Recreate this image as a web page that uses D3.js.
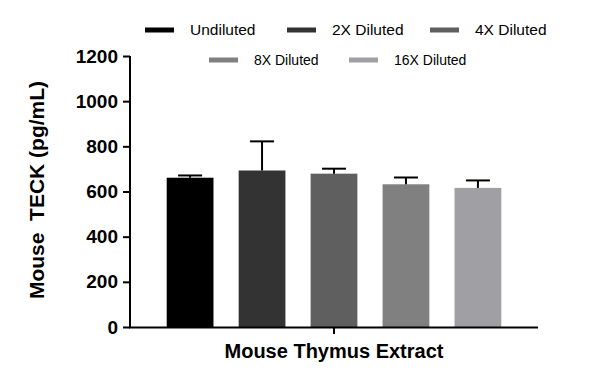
<!DOCTYPE html>
<html lang="en">
    <head>
        <meta charset="utf-8">
        <title>Mouse TECK</title>
        <script src="https://cdn.jsdelivr.net/npm/d3@7"></script>
        <style>
            body { margin: 0; background: #fff; }
            text { font-family: "Liberation Sans", Arial, sans-serif; }
        </style>
    </head>
    <body>
        <script type="text/javascript">

            // the data
            var groups = ["Undiluted", "2X Diluted", "4X Diluted", "8X Diluted", "16X Diluted"];
            var means = [661, 693, 679, 632, 616];
            var errors = [10, 129, 22, 30, 33];
            var colors = ["#000000", "#333333", "#5f5f5f", "#808080", "#a0a0a4"];
            var yTicks = [0, 200, 400, 600, 800, 1000, 1200];

            var w = 600;
            var h = 387;

            var svg = d3.select("body")
                        .append("svg")
                        .attr("width", w)
                        .attr("height", h);

            // scales
            var yScale = d3.scaleLinear()
                            .domain([0, 1200])
                            .range([327, 56]);

            var xScale = d3.scaleBand()
                            .domain(groups)
                            .range([130, 538])
                            .paddingInner(0.35)
                            .paddingOuter(0.51);

            // bars
            svg.selectAll("rect.bar")
              .data(groups)
              .enter()
              .append("rect")
              .attr("class", "bar")
              .attr("x", function(d) { return xScale(d); })
              .attr("y", function(d, i) { return yScale(means[i]); })
              .attr("width", xScale.bandwidth())
              .attr("height", function(d, i) { return yScale(0) - yScale(means[i]); })
              .attr("fill", function(d, i) { return colors[i]; });

            // error bars, only the upper half
            var err = svg.selectAll("g.err")
              .data(groups)
              .enter()
              .append("g")
              .attr("class", "err")
              .attr("stroke", "#000")
              .attr("stroke-width", 2);

            err.append("line")
              .attr("x1", function(d) { return xScale(d) + xScale.bandwidth() / 2; })
              .attr("x2", function(d) { return xScale(d) + xScale.bandwidth() / 2; })
              .attr("y1", function(d, i) { return yScale(means[i]); })
              .attr("y2", function(d, i) { return yScale(means[i] + errors[i]); });

            err.append("line")
              .attr("x1", function(d) { return xScale(d) + xScale.bandwidth() / 2 - 12; })
              .attr("x2", function(d) { return xScale(d) + xScale.bandwidth() / 2 + 12; })
              .attr("y1", function(d, i) { return yScale(means[i] + errors[i]); })
              .attr("y2", function(d, i) { return yScale(means[i] + errors[i]); });

            // y axis
            var yAxis = svg.append("g")
              .attr("transform", "translate(130,0)")
              .call(d3.axisLeft(yScale).tickValues(yTicks).tickSize(7).tickPadding(5).tickFormat(d3.format("d")));

            yAxis.select(".domain").attr("stroke-width", 2).attr("d", "M0,56V328");
            yAxis.selectAll(".tick line").attr("stroke-width", 2);
            yAxis.selectAll(".tick text")
              .attr("fill", "#000")
              .style("font-size", "19px")
              .style("font-weight", "bold");

            // x axis, one tick in the middle
            svg.append("line")
              .attr("x1", 129)
              .attr("x2", 538)
              .attr("y1", 327.5)
              .attr("y2", 327.5)
              .attr("stroke", "#000")
              .attr("stroke-width", 2);

            svg.append("line")
              .attr("x1", (130 + 538) / 2)
              .attr("x2", (130 + 538) / 2)
              .attr("y1", 327)
              .attr("y2", 334)
              .attr("stroke", "#000")
              .attr("stroke-width", 2);

            // axis titles
            svg.append("text")
              .attr("x", 334)
              .attr("y", 358)
              .attr("text-anchor", "middle")
              .style("font-size", "20px")
              .style("font-weight", "bold")
              .text("Mouse Thymus Extract");

            svg.append("text")
              .attr("transform", "translate(44,190) rotate(-90)")
              .attr("text-anchor", "middle")
              .style("font-size", "21px")
              .style("font-weight", "bold")
              .style("white-space", "pre")
              .text("Mouse  TECK (pg/mL)");

            // legend, two rows
            var legendX = [145, 287, 430, 209, 349];
            var legendY = [30, 30, 30, 60, 60];

            var legend = svg.selectAll("g.legend")
              .data(groups)
              .enter()
              .append("g")
              .attr("class", "legend")
              .attr("transform", function(d, i) {
                return "translate(" + legendX[i] + "," + legendY[i] + ")";
              });

            legend.append("rect")
              .attr("x", 0)
              .attr("y", -2.5)
              .attr("width", 29)
              .attr("height", 5)
              .attr("fill", function(d, i) { return colors[i]; });

            legend.append("text")
              .attr("x", 45)
              .attr("y", 5)
              .style("font-size", function(d, i) { return i < 3 ? "15.5px" : "14px"; })
              .attr("fill", "#000")
              .text(function(d) { return d; });
        </script>
    </body>
</html>
